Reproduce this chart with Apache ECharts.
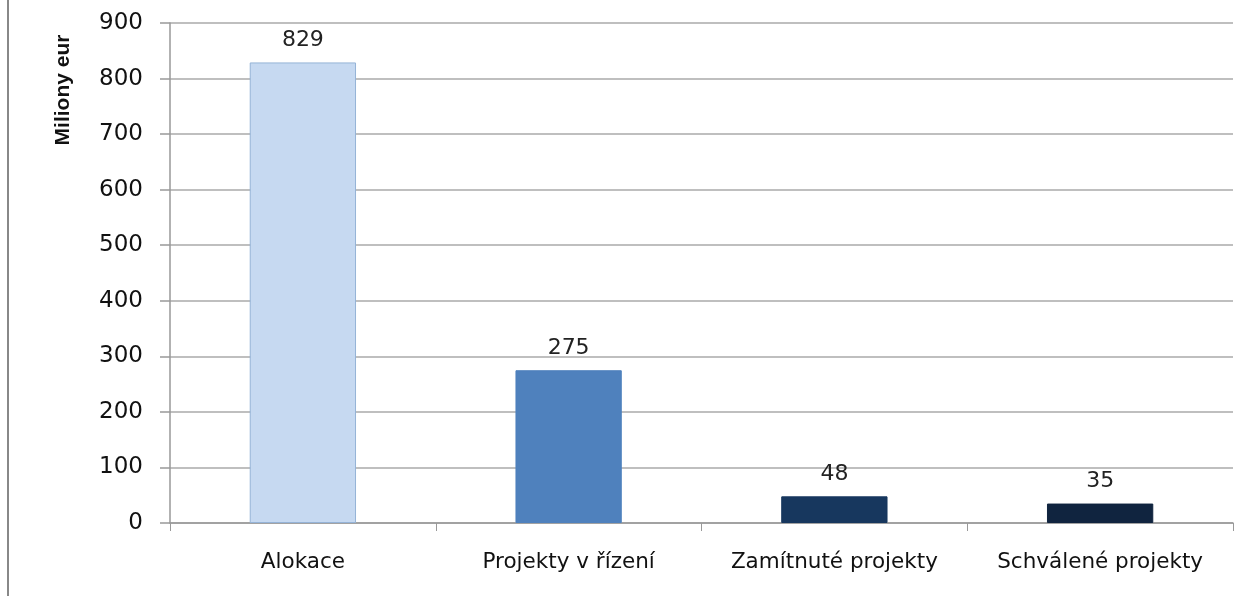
<!DOCTYPE html>
<html>
<head>
<meta charset="utf-8">
<script src="https://cdn.jsdelivr.net/npm/echarts@6/dist/echarts.min.js"></script>
<style>html,body{margin:0;padding:0;background:#fff}#c{width:1252px;height:596px}</style>
</head>
<body>
<div id="c"></div>
<script>
const categories = ['Alokace', 'Projekty v řízení', 'Zamítnuté projekty', 'Schválené projekty'];
const values = [829, 275, 48, 35];
const barColors = ['#C6D9F1', '#4F81BD', '#17375E', '#10243F'];
const barBorders = ['#95B3D7', '#4F81BD', '#17375E', '#10243F'];
const yTicks = { min: 0, max: 900, interval: 100 };
const yTitle = 'Miliony eur';

const chart = echarts.init(document.getElementById('c'));
const font = 'DejaVu Sans, sans-serif';
chart.setOption({
  animation: false,
  grid: { left: 170, right: 19, top: 23, bottom: 73 },
  xAxis: {
    type: 'category',
    data: categories,
    axisLine: { lineStyle: { color: '#999', width: 1.5 } },
    axisTick: { show: true, length: 8, lineStyle: { color: '#999' } },
    axisLabel: { color: '#111', fontSize: 21.5, fontFamily: font, margin: 28, interval: 0, hideOverlap: false }
  },
  yAxis: {
    type: 'value',
    min: yTicks.min, max: yTicks.max, interval: yTicks.interval,
    axisLine: { show: true, lineStyle: { color: '#999', width: 1.5 } },
    axisTick: { show: true, length: 10, lineStyle: { color: '#999', width: 1.5 } },
    splitLine: { lineStyle: { color: '#AAAAAA', width: 1.5 } },
    axisLabel: { color: '#111', fontSize: 23, fontFamily: font, margin: 27 }
  },
  graphic: [
    { type: 'line', shape: { x1: 8, y1: 0, x2: 8, y2: 596 }, style: { stroke: '#888', lineWidth: 2 } },
    { type: 'text', x: 63, y: 90, rotation: Math.PI / 2,
      style: { text: yTitle, fill: '#111', font: 'bold 21px "Liberation Sans Narrow", "Liberation Sans", sans-serif', align: 'center', verticalAlign: 'middle' } }
  ],
  series: [{
    type: 'bar',
    barWidth: '40%',
    data: values.map((v, i) => ({ value: v, itemStyle: { color: barColors[i], borderColor: barBorders[i], borderWidth: 1 } })),
    label: { show: true, position: 'top', distance: 11, color: '#222', fontSize: 22, fontFamily: font }
  }]
});
</script>
</body>
</html>
